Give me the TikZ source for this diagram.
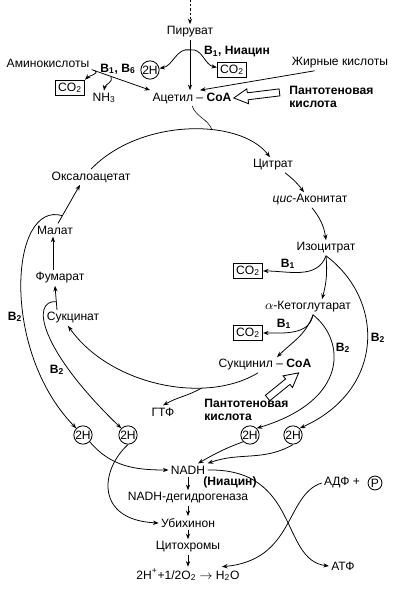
\documentclass[tikz,border=0pt]{standalone}
\usepackage{fontspec}
\setmainfont{Liberation Sans}
\usetikzlibrary{arrows.meta,calc}

\tikzset{
  every node/.style={font=\fontsize{8.6}{9.4}\selectfont, inner sep=1.5pt},
  arr/.style={-{Stealth[length=4pt,width=3pt]}, line width=0.55pt},
  box/.style={draw, line width=0.6pt, inner sep=2pt},
  hcirc/.style={draw, circle, line width=0.6pt, inner sep=0pt, minimum size=13pt},
  vit/.style={font=\fontsize{8.6}{9.4}\selectfont\bfseries},
  hollow/.style={draw, line width=0.6pt, fill=white},
}
\newcommand{\cotwo}{CO\textsubscript{2}}
% tip, angle, length
\newcommand{\hollowarrow}[3]{%
  \draw[hollow, shift={(#1)}, rotate=#2] (0,0) -- (-14,7.5) -- (-14,3.5) -- (-#3,3.5)
    -- (-#3,-3.5) -- (-14,-3.5) -- (-14,-7.5) -- cycle;}

\begin{document}
\begin{tikzpicture}[x=0.025cm, y=0.025cm]
%\draw[help lines] (0,0) grid (400,-596);
\useasboundingbox (0,0) rectangle (400,-596);

% entry into the cycle
\coordinate (top) at (190,0);
\node (pir) at (190,-32) {Пируват};
\node (acet) at (192,-98) {Ацетил -- \textbf{CoA}};
\node (amino) at (48,-63) {Аминокислоты};
\node (fatty) at (340,-63) {Жирные кислоты};
\node[hcirc] (hA) at (150,-70) {2H};
\node[box] (co2a) at (232,-70) {\cotwo};
\node[vit] (b1nia) at (237,-52) {B\textsubscript{1}, Ниацин};
\node[box] (co2b) at (70,-88) {\cotwo};
\node (nh3) at (104,-98) {NH\textsubscript{3}};
\node[vit] (b1b6) at (118,-69) {B\textsubscript{1}, B\textsubscript{6}};
\node[vit, align=left, anchor=west] (pant1) at (287,-97) {Пантотеновая\\кислота};

% cycle
\node (oxa) at (91,-177) {Оксалоацетат};
\node (citr) at (273,-165) {Цитрат};
\node (cis) at (310,-200) {\textit{цис}-Аконитат};
\node (iso) at (326,-248) {Изоцитрат};
\node[box] (co2c) at (248,-271) {\cotwo};
\node[vit] (b1c) at (288,-264) {B\textsubscript{1}};
\node (keto) at (308,-307) {$\alpha$-Кетоглутарат};
\node[box] (co2d) at (248,-333) {\cotwo};
\node[vit] (b1d) at (284,-324) {B\textsubscript{1}};
\node (succoa) at (265,-365) {Сукцинил -- \textbf{CoA}};
\node[vit, align=left, anchor=west] (pant2) at (202,-410) {Пантотеновая\\кислота};
\node (gtf) at (163,-412) {ГТФ};
\node (succ) at (73,-318) {Сукцинат};
\node (fum) at (60,-278) {Фумарат};
\node (mal) at (55,-230) {Малат};
\node[vit] (b2a) at (15,-317) {B\textsubscript{2}};
\node[vit] (b2b) at (57,-370) {B\textsubscript{2}};
\node[vit] (b2c) at (343,-348) {B\textsubscript{2}};
\node[vit] (b2d) at (378,-338) {B\textsubscript{2}};

% respiratory chain
\node[hcirc] (h1) at (83,-435) {2H};
\node[hcirc] (h2) at (128,-435) {2H};
\node[hcirc] (h3) at (250,-435) {2H};
\node[hcirc] (h4) at (293,-435) {2H};
\node (nadh) at (188,-470) {NADH};
\node[vit] (nia) at (230,-482) {(Ниацин)};
\node (dehyd) at (188,-498) {NADH-дегидрогеназа};
\node (ubi) at (188,-523) {Убихинон};
\node (cyt) at (188,-547) {Цитохромы};
\node (water) at (188,-575) {2H\textsuperscript{+}+1/2O\textsubscript{2} $\rightarrow$ H\textsubscript{2}O};
\node (adp) at (342,-483) {АДФ +};
\node[circle, draw, line width=0.6pt, inner sep=0.6pt] (pi) at (375,-483) {P};
\node (atf) at (343,-566) {АТФ};

% top arrows
\draw[arr, dash pattern=on 1.5pt off 1.5pt] (top) -- (pir);
\draw[arr] (pir) -- coordinate[pos=0.2] (pb) (pir |- acet.north);
\draw[arr] (pb) to[out=170,in=10] (hA);
\draw[arr] (pb) to[out=10,in=170] (co2a);
\draw[arr] (amino.south east) -- coordinate[pos=0.06] (ab1) coordinate[pos=0.33] (ab2) (acet.north west);
\draw[arr] (ab1) to[out=-30,in=45] (co2b.north east);
\draw[arr] (ab2) to[out=-60,in=80] (nh3.north);
\draw[arr] ($(fatty.south west)+(25,0)$) -- ($(acet.north)+(8,0)$);
\hollowarrow{acet.east}{187}{46}

% cycle arrows
\draw[arr] (oxa.north) .. controls (140,-118) and (240,-118) .. coordinate[pos=0.62] (cj) ($(citr.north)+(-3,0)$);
\draw (acet.south) to[out=-70,in=110] (cj);
\draw[arr] ($(citr.south)+(12,0)$) to[bend left=8] ($(cis.north)+(-6,0)$);
\draw[arr] ($(cis.south)+(2,0)$) to[bend left=15] (iso.north);
\draw[arr] (iso.south) to[bend left=10] ($(keto.north)+(14,0)$);
\draw[arr] (iso.south) to[out=-110,in=0] (co2c.east);
\draw[arr] (iso.south) .. controls (385,-300) and (385,-390) .. (h4.north east);
\draw[arr] ($(keto.south)+(5,0)$) to[out=-100,in=0] (co2d.east);
\draw[arr] ($(keto.south)+(5,0)$) to[out=-110,in=45] ($(succoa.north)+(12,0)$);
\draw[arr] ($(keto.south)+(5,0)$) .. controls (345,-340) and (350,-400) .. (h3.north east);
\hollowarrow{$(succoa.south east)+(-15,0)$}{39}{40}
\draw[arr] ($(succoa.south)+(-7,0)$) .. controls (205,-405) and (110,-385) .. coordinate[pos=0.3] (gb) ($(succ.south)+(-5,0)$);
\draw[arr] (gb) to[out=-150,in=30] (gtf.north);
\draw[arr] ($(succ.north)+(-16,0)$) -- coordinate[pos=0.35] (sf) ($(fum.south)+(-5,0)$);
\draw[arr] (sf) .. controls (30,-300) and (40,-350) .. (h2.north west);
\draw[arr] ($(fum.north)+(-7,0)$) -- ($(mal.south)+(-2,0)$);
\draw[arr] ($(mal.north)+(3,0)$) -- coordinate[pos=0.2] (mo) ($(oxa.south)+(-11,0)$);
\draw[arr] (mo) .. controls (10,-200) and (0,-350) .. (h1.north west);

% chain arrows
\draw[arr] (h1.south east) to[out=-50,in=180] (nadh.west);
\draw[arr] (h2.south) .. controls (100,-470) and (95,-520) .. (ubi.west);
\draw[arr] (h3.south west) to[out=200,in=30] ($(nadh.north)+(10,0)$);
\draw[arr] (h4.south) to[out=-150,in=20] (nadh.north east);
\draw[arr] (nadh) -- (dehyd);
\draw[arr] (dehyd) -- (ubi);
\draw[arr] (ubi) -- (cyt);
\draw[arr] (cyt) -- (water);
\draw[arr] (nadh.east) .. controls (300,-468) and (280,-560) .. (atf.west);
\draw[arr] (adp.west) .. controls (285,-495) and (295,-560) .. ($(water.north east)+(-20,0)$);
\end{tikzpicture}
\end{document}
